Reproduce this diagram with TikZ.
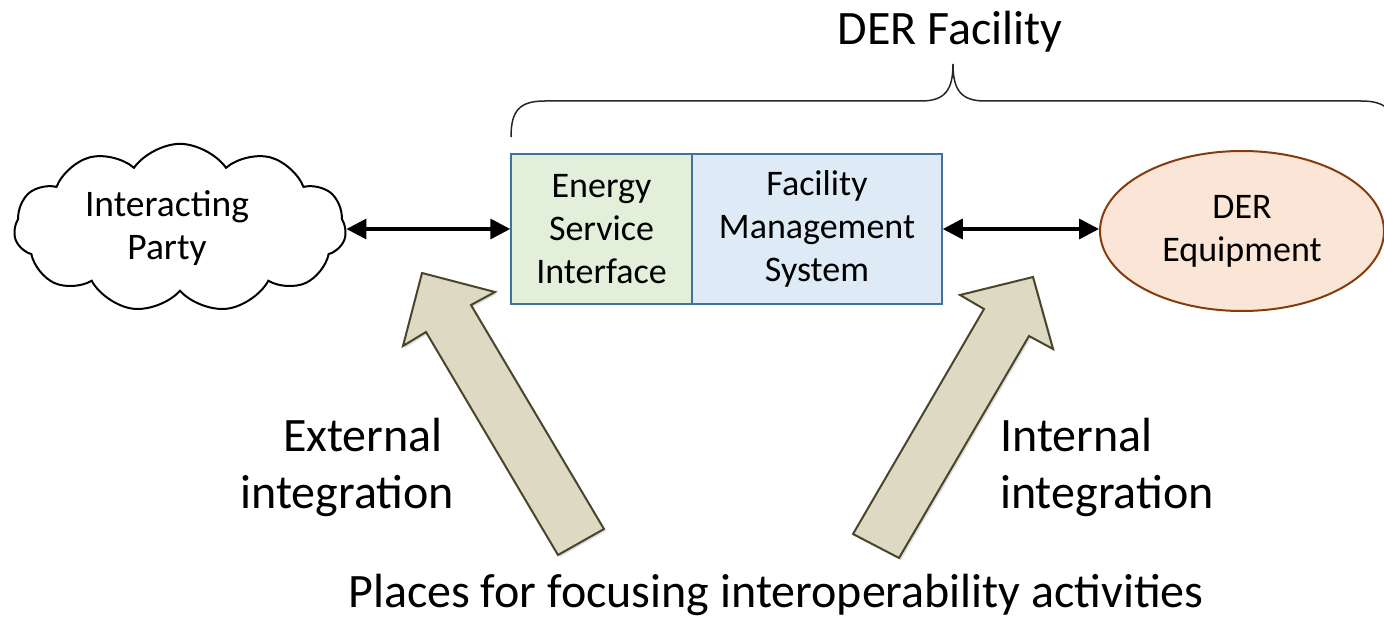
\documentclass[tikz,border=0pt]{standalone}
\usepackage{fontspec}
\setmainfont{Carlito}
\usetikzlibrary{shapes.geometric, shapes.symbols, arrows.meta, positioning, shadows}

\definecolor{esigreen}{HTML}{E2EFDA}
\definecolor{fmsblue}{HTML}{DEEBF7}
\definecolor{boxline}{HTML}{41719C}
\definecolor{derfill}{HTML}{FBE5D6}
\definecolor{derline}{HTML}{843C0C}
\definecolor{focusfill}{HTML}{DDD9C3}
\definecolor{focusline}{HTML}{4A452A}

\begin{document}
\begin{tikzpicture}[x=1pt, y=-1pt,
    boxtext/.style={font=\fontsize{36}{43}\selectfont, align=center, inner sep=0pt},
    bigtext/.style={font=\fontsize{48}{57}\selectfont, inner sep=0pt},
    dblarrow/.style={line width=3.5pt, {Triangle[length=20pt,width=20pt]}-{Triangle[length=20pt,width=20pt]}},
    focus/.style={fill=focusfill, draw=focusline, line width=2pt, line join=miter,
        drop shadow={shadow xshift=2pt, shadow yshift=-2pt, opacity=.25}}]
    \clip (0,0) rectangle (1384,620);

    % Focus arrows
    \draw[focus] (558,555) -- (426,332) -- (403,346) -- (422,273) -- (495,292) -- (471,305) -- (604,529) -- cycle;
    \draw[focus] (853,534) -- (984,309) -- (960,295) -- (1033,277) -- (1053,349) -- (1029,336) -- (899,558) -- cycle;

    % Interacting party
    \node[draw, cloud, cloud puffs=11, cloud puff arc=110, aspect=2, line width=2pt,
        minimum width=332pt, minimum height=162pt, boxtext, font=\fontsize{37.5}{43}\selectfont]
        (party) at (180,228) {Interacting\hspace*{26pt}\\Party\hspace*{26pt}};

    % DER facility boxes
    \node[draw=boxline, fill=esigreen, line width=1.5pt, minimum width=181pt, minimum height=150pt, boxtext]
        (esi) at (601.5,229) {Energy\\Service\\Interface};
    \node[draw=boxline, fill=fmsblue, line width=1.5pt, minimum width=250pt, minimum height=150pt, boxtext,
        right=-1.5pt of esi] (fms) {Facility\\Management\\System};

    % DER equipment
    \node[draw=derline, fill=derfill, ellipse, line width=2pt, minimum width=284pt, minimum height=160pt, boxtext]
        (der) at (1242,231) {DER\\Equipment};

    % Links
    \draw[dblarrow] (party.east |- 0,229) -- (esi.west |- 0,229);
    \draw[dblarrow] (fms.east |- 0,229) -- (der.west |- 0,229);

    % Brace over the facility
    \draw[line width=1.5pt, black!85] (511,137) .. controls (511,110) and (520,101) .. (545,101)
        -- (921,101) .. controls (945,101) and (953,90) .. (953,64)
        .. controls (953,90) and (961,101) .. (985,101)
        -- (1361,101) .. controls (1386,101) and (1395,110) .. (1395,137);
    \node[bigtext, anchor=base] (facility) at (950,45) {DER Facility};

    % Labels
    \node[bigtext, align=right, anchor=east] (external) at (454,467) {External\hspace*{11pt}\\integration};
    \node[bigtext, align=left, anchor=west] (internal) at (1000,467) {Internal\\integration};
    \node[bigtext, anchor=base] (places) at (776,607) {Places for focusing interoperability activities};

\end{tikzpicture}
\end{document}
